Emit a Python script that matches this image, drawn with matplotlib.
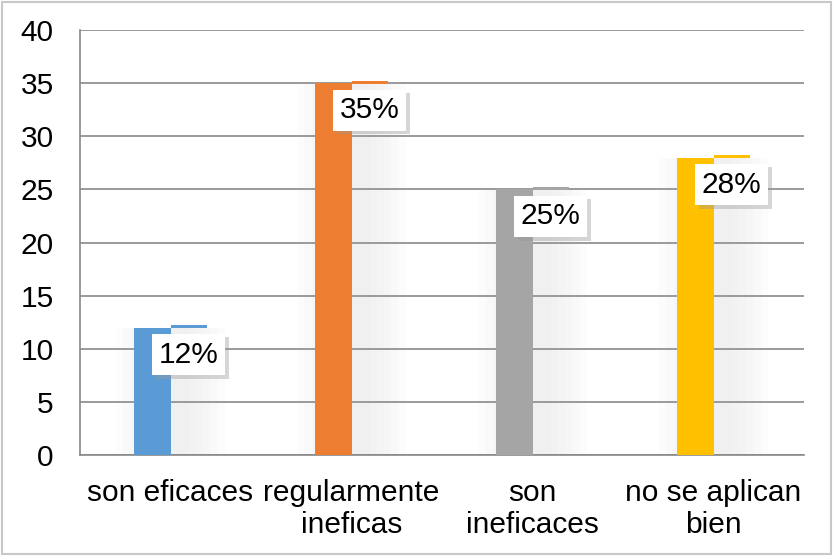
import matplotlib.pyplot as plt
import matplotlib.patheffects as pe
import numpy as np

plt.rcParams['font.family'] = ['Liberation Sans', 'DejaVu Sans']

categorias = ['son eficaces', 'regularmente\nineficas', 'son\nineficaces', 'no se aplican\nbien']
valores = [12, 35, 25, 28]
etiquetas = ['12%', '35%', '25%', '28%']
colores = ['#5B9BD5', '#ED7D31', '#A5A5A5', '#FFC000']

fig = plt.figure(figsize=(8.33, 5.56), dpi=100)
ax = fig.add_axes([80 / 833, 1 - 455 / 556, (804 - 80) / 833, (455 - 30) / 556])

x = np.arange(len(valores))
w = 0.2

# sombra difusa detras de cada barra
for xi, v in zip(x, valores):
    for k in range(6):
        ax.bar(xi - w / 2 + 0.1, v, width=w + 0.08 * k, color='#B8B8B8',
               alpha=0.03, zorder=1, linewidth=0)

# barras (cara frontal) y borde superior desplazado
ax.bar(x - w / 2, valores, width=w, color=colores, zorder=3)
ax.bar(x + w / 2, 0.25, width=w, bottom=np.array(valores) - 0.05,
       color=colores, zorder=3)

# etiquetas de porcentaje con caja y sombra
for xi, v, t in zip(x, valores, etiquetas):
    txt = ax.text(xi + 0.1, v - 2.55, t, ha='center', va='center', fontsize=21.5,
                  zorder=5,
                  bbox=dict(boxstyle='square,pad=0.22', fc='white', ec='none'))
    txt.get_bbox_patch().set_path_effects([
        pe.SimplePatchShadow(offset=(2.5, -2.5), shadow_rgbFace='#9A9A9A', alpha=0.4),
        pe.Normal()])

ax.set_xlim(-0.5, 3.5)
ax.set_ylim(0, 40)
ax.set_yticks(range(0, 41, 5))
ax.set_xticks(x)
ax.set_xticklabels(categorias, fontsize=21.5, linespacing=1.2)
ax.tick_params(axis='y', labelsize=21.5, length=0, pad=19)
ax.tick_params(axis='x', length=0, pad=17)
ax.grid(axis='y', color='#898989', linewidth=1.2, zorder=0)
ax.set_axisbelow(True)

for s in ['top', 'right']:
    ax.spines[s].set_visible(False)
ax.spines['left'].set_color('#898989')
ax.spines['bottom'].set_color('#898989')
ax.spines['left'].set_linewidth(1.2)
ax.spines['bottom'].set_linewidth(1.2)

# marco exterior del grafico
fig.patches.append(plt.Rectangle((0.002, 0.004), 0.995, 0.993, transform=fig.transFigure,
                                 fill=False, ec='#C8C8C8', lw=1.5))

plt.savefig('out.png', dpi=100)
